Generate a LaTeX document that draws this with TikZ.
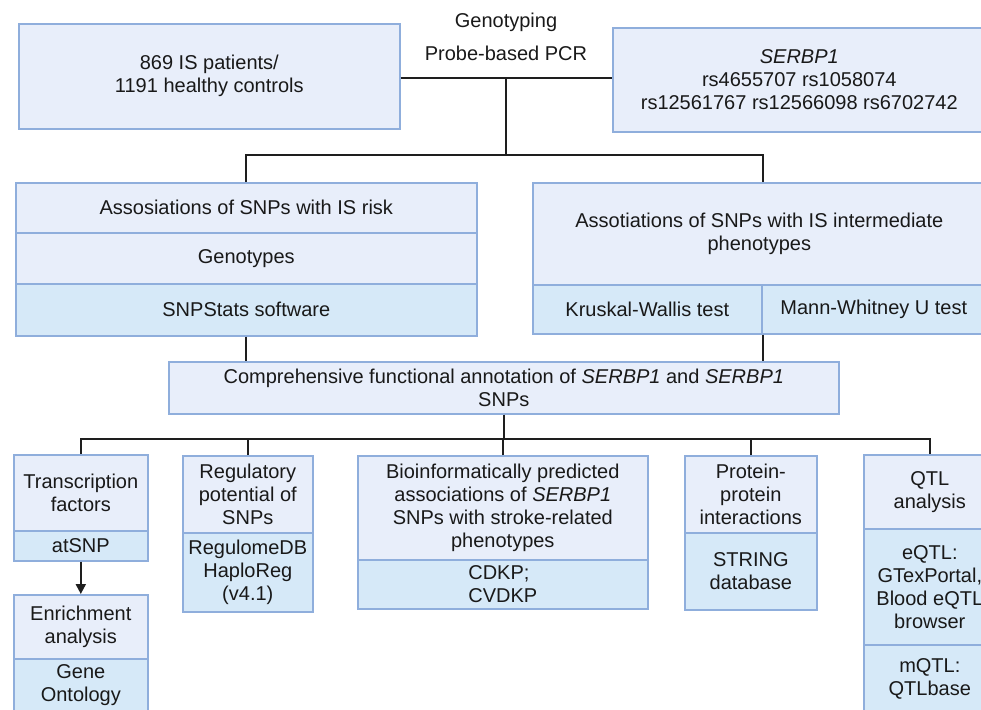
\documentclass[tikz,border=0pt]{standalone}
\usepackage{fontspec}
\setmainfont{Liberation Sans}
\usetikzlibrary{arrows.meta}

\definecolor{cellfill}{HTML}{E8EEFA}
\definecolor{toolfill}{HTML}{D6E9F8}
\definecolor{cellline}{HTML}{8FAEDC}
\definecolor{wirecol}{HTML}{1E1E1E}

\begin{document}
\begin{tikzpicture}[x=1pt,y=-1pt,
    cell/.style={draw=cellline, fill=cellfill, line width=1.6pt, anchor=north west,
      inner sep=0pt, align=center, text=black!90, font=\fontsize{20}{23}\selectfont},
    tool/.style={cell, fill=toolfill},
    plain/.style={text=black!90, font=\fontsize{20}{23}\selectfont},
    wire/.style={draw=wirecol, line width=2pt}]
    \useasboundingbox (0,0) rectangle (981,709);

    % Cohort, genotyping and SNPs
    \node[cell, minimum width=381pt, minimum height=105pt] (pop) at (18,23) {869 IS patients/\\1191 healthy controls};
    \node[cell, minimum width=373pt, minimum height=104pt] (serbp) at (612,27) {\textit{SERBP1}\\rs4655707 rs1058074\\rs12561767 rs12566098 rs6702742};
    \node[plain] (genot) at (506,22) {Genotyping};
    \node[plain] (pcr) at (506,53) {Probe-based PCR};

    % Association with risk
    \node[cell, minimum width=461pt, minimum height=50pt] (risk) at (15,182) {Assosiations of SNPs with IS risk};
    \node[cell, minimum width=461pt, minimum height=51pt] (gtypes) at (15,232) {Genotypes};
    \node[tool, minimum width=461pt, minimum height=52pt] (stats) at (15,283) {SNPStats software};

    % Association with intermediate phenotypes
    \node[cell, minimum width=453pt, minimum height=102pt] (inter) at (532,182) {Assotiations of SNPs with IS intermediate\\phenotypes};
    \node[tool, minimum width=229pt, minimum height=49pt] (kw) at (532,284) {Kruskal-Wallis test};
    \node[tool, minimum width=224pt, minimum height=49pt] (mw) at (761,284) {Mann-Whitney U test};

    % Annotation
    \node[cell, minimum width=670pt, minimum height=52pt] (comp) at (168,361) {Comprehensive functional annotation of \textit{SERBP1} and \textit{SERBP1}\\SNPs};

    % Bottom row
    \node[cell, minimum width=134pt, minimum height=76pt] (tf) at (13,454) {Transcription\\factors};
    \node[tool, minimum width=134pt, minimum height=30pt] (atsnp) at (13,530) {atSNP};
    \node[cell, minimum width=134pt, minimum height=64pt] (enr) at (13,594) {Enrichment\\analysis};
    \node[tool, minimum width=134pt, minimum height=52pt] (gonto) at (13,658) {Gene\\Ontology};

    \node[cell, minimum width=130pt, minimum height=77pt] (reg) at (182,455) {Regulatory\\potential of\\SNPs};
    \node[tool, minimum width=130pt, minimum height=79pt] (regdb) at (182,532) {RegulomeDB\\HaploReg\\(v4.1)};

    \node[cell, minimum width=290pt, minimum height=104pt] (bio) at (357,455) {Bioinformatically predicted\\associations of \textit{SERBP1}\\SNPs with stroke-related\\phenotypes};
    \node[tool, minimum width=290pt, minimum height=49pt, align=left] (cdkp) at (357,559) {CDKP;\\CVDKP};

    \node[cell, minimum width=132pt, minimum height=77pt] (prot) at (684,455) {Protein-\\protein\\interactions};
    \node[tool, minimum width=132pt, minimum height=77pt] (string) at (684,532) {STRING\\database};

    \node[cell, minimum width=132pt, minimum height=74pt] (qtl) at (863,454) {QTL\\analysis};
    \node[tool, minimum width=132pt, minimum height=116pt] (eqtl) at (863,528) {eQTL:\\GTexPortal,\\Blood eQTL\\browser};
    \node[tool, minimum width=132pt, minimum height=68pt] (mqtl) at (863,644) {mQTL:\\QTLbase};

    % Connectors
    \coordinate (hub) at (506,78);
    \coordinate (fork) at (506,155);
    \coordinate (bus) at (503,439);
    \draw[wire] (pop.east |- hub) -- (serbp.west |- hub);
    \draw[wire] (hub) -- (fork);
    \draw[wire] (risk.north) |- (fork) -| (kw.north east |- inter.north);
    \draw[wire] (stats.south) -- (stats.south |- comp.north);
    \draw[wire] (kw.south east) -- (kw.south east |- comp.north);
    \draw[wire] (comp.south) -- (comp.south |- bus);
    \foreach \n in {tf,reg,bio,prot,qtl}
        \draw[wire] (\n.north) |- (bus);
    \draw[wire, -{Triangle[length=10pt,width=10pt]}] (atsnp.south) -- (enr.north);
\end{tikzpicture}
\end{document}
